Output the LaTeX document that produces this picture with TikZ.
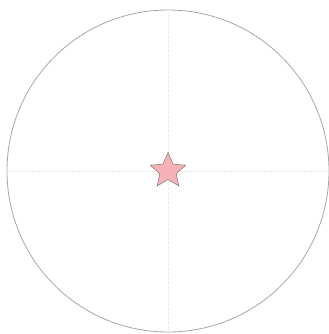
\documentclass[tikz,border=0pt]{standalone}
\usepackage{xcolor}
\usepackage{tikz}
\usetikzlibrary{shapes.geometric}

\definecolor{starpink}{RGB}{247,178,184}

\begin{document}
\begin{tikzpicture}[
    x=1bp, y=1bp,
    ring/.style={draw=gray!70, line width=0.8bp},
    cross/.style={draw=gray!25, dotted, line width=0.5bp},
    marker/.style={star, star points=5, star point ratio=2.15, minimum size=37bp,
        inner sep=0pt, fill=starpink, draw=gray!80!black, line width=0.4bp}
]
    \useasboundingbox (0,0) rectangle (329,334);
    \coordinate (centre) at (168,163);
    \draw[ring] (centre) circle (161);
    \coordinate (top) at (168,324);
    \coordinate (bottom) at (168,2);
    \coordinate (left) at (7,163);
    \coordinate (right) at (329,163);
    \draw[cross] (top) -- (bottom);
    \draw[cross] (left) -- (right);
    \node[marker] (pole) at (centre) {};
\end{tikzpicture}
\end{document}
